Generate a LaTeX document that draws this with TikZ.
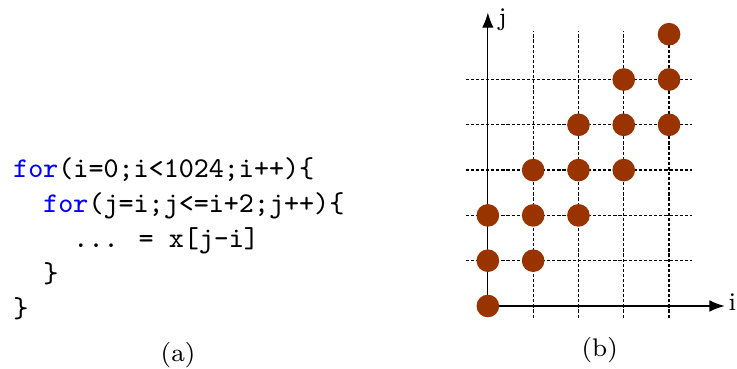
\documentclass[tikz,border=0pt]{standalone}
\usepackage{tikz}
\usetikzlibrary{arrows.meta}
\definecolor{dotbrown}{RGB}{153,51,0}
\newcommand{\codeind}{\hspace*{1.05em}}

\begin{document}
\begin{tikzpicture}[x=0.5cm,y=0.5cm,
        gridline/.style={dash pattern=on 1pt off 0.6pt,line width=0.4pt},
        pt/.style={circle,fill=dotbrown,inner sep=0pt,minimum size=0.25cm}]
        \useasboundingbox (-10.77,-1.37) rectangle (5.50,6.755);
        \foreach \k in {1,...,4}
            \draw[gridline] (\k,-0.26) -- (\k,6.08);
        \foreach \k in {1,...,5}
            \draw[gridline] (-0.49,\k) -- (4.5,\k);
        \coordinate (O) at (0,0);
        \coordinate (X) at (5.23,0);
        \coordinate (Y) at (0,6.48);
        \draw[-{Latex}] (O) -- (X);
        \draw[-{Latex}] (O) -- (Y);
        \node[anchor=base west,inner sep=0pt,font=\footnotesize] (I) at (5.30,-0.09) {i};
        \node[anchor=base west,inner sep=0pt,font=\footnotesize] (J) at (0.22,6.2) {j};
        \foreach \i in {0,...,4}
            \foreach \d in {0,1,2}
                \node[pt] (P\i\d) at (\i,\i+\d) {};
        \node[anchor=west,align=left,inner sep=0pt,font=\small\ttfamily] (A) at (-10.49,1.48)
            {\textcolor{blue}{for}(i=0;i<1024;i++)\{\\
             \codeind\textcolor{blue}{for}(j=i;j<=i+2;j++)\{\\
             \codeind\codeind... = x[j-i]\\
             \codeind\}\\
             \}};
        \node[font=\footnotesize] (B) at (-6.84,-1.08) {(a)};
        \node[font=\footnotesize] (C) at (2.47,-0.97) {(b)};
    \end{tikzpicture}
\end{document}
